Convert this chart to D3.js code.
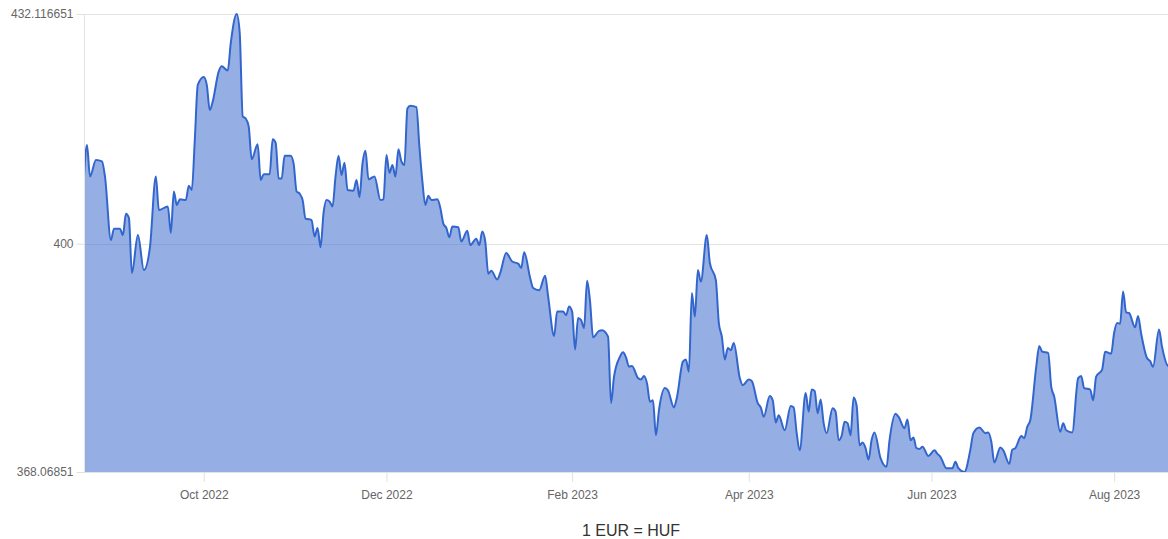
<!DOCTYPE html>
<html>
<head>
<meta charset="utf-8">
<script src="https://cdn.jsdelivr.net/npm/d3@7"></script>
<style>
  html, body { margin: 0; padding: 0; background: #fff; }
  #chart { width: 1168px; height: 539px; overflow: hidden; }
  text { font-family: "Liberation Sans", Arial, sans-serif; }
</style>
</head>
<body>
<div id="chart"></div>
<script>
;(function() {
  "use strict";

  // Data: daily EUR/HUF reference readings
  // ---------------------------------------------------------------------------
  var days = [
    "2022-08-22","2022-08-23","2022-08-24","2022-08-26","2022-08-28","2022-08-29","2022-08-31",
    "2022-09-01","2022-09-03","2022-09-04","2022-09-05","2022-09-06","2022-09-07","2022-09-09","2022-09-11","2022-09-13","2022-09-15","2022-09-16","2022-09-19","2022-09-20","2022-09-21","2022-09-22","2022-09-23","2022-09-25","2022-09-26","2022-09-27","2022-09-28","2022-09-29",
    "2022-10-01","2022-10-02","2022-10-03","2022-10-04","2022-10-06","2022-10-07","2022-10-09","2022-10-10","2022-10-12","2022-10-13","2022-10-14","2022-10-15","2022-10-16","2022-10-17","2022-10-19","2022-10-20","2022-10-21","2022-10-23","2022-10-24","2022-10-25","2022-10-26","2022-10-27","2022-10-28","2022-10-30","2022-10-31",
    "2022-11-01","2022-11-02","2022-11-03","2022-11-04","2022-11-06","2022-11-07","2022-11-08","2022-11-09","2022-11-10","2022-11-11","2022-11-12","2022-11-13","2022-11-14","2022-11-15","2022-11-16","2022-11-17","2022-11-18","2022-11-20","2022-11-21","2022-11-22","2022-11-23","2022-11-24","2022-11-25","2022-11-27","2022-11-29","2022-11-30",
    "2022-12-01","2022-12-02","2022-12-03","2022-12-04","2022-12-05","2022-12-06","2022-12-07","2022-12-08","2022-12-09","2022-12-11","2022-12-12","2022-12-13","2022-12-14","2022-12-15","2022-12-16","2022-12-18","2022-12-19","2022-12-20","2022-12-21","2022-12-22","2022-12-23","2022-12-25","2022-12-26","2022-12-28","2022-12-29","2022-12-31",
    "2023-01-01","2023-01-02","2023-01-03","2023-01-04","2023-01-05","2023-01-07","2023-01-08","2023-01-10","2023-01-12","2023-01-14","2023-01-15","2023-01-16","2023-01-18","2023-01-19","2023-01-21","2023-01-23","2023-01-24","2023-01-26","2023-01-27","2023-01-29","2023-01-30","2023-01-31",
    "2023-02-01","2023-02-02","2023-02-03","2023-02-04","2023-02-05","2023-02-06","2023-02-07","2023-02-08","2023-02-10","2023-02-11","2023-02-13","2023-02-14","2023-02-15","2023-02-17","2023-02-18","2023-02-19","2023-02-20","2023-02-21","2023-02-23","2023-02-24","2023-02-25","2023-02-26","2023-02-27","2023-02-28",
    "2023-03-01","2023-03-02","2023-03-04","2023-03-05","2023-03-07","2023-03-08","2023-03-10","2023-03-11","2023-03-12","2023-03-13","2023-03-14","2023-03-15","2023-03-16","2023-03-18","2023-03-19","2023-03-21","2023-03-22","2023-03-23","2023-03-24","2023-03-25","2023-03-26","2023-03-27","2023-03-29","2023-03-30",
    "2023-04-01","2023-04-02","2023-04-04","2023-04-05","2023-04-06","2023-04-08","2023-04-09","2023-04-10","2023-04-11","2023-04-13","2023-04-15","2023-04-16","2023-04-17","2023-04-18","2023-04-20","2023-04-21","2023-04-22","2023-04-23","2023-04-24","2023-04-25","2023-04-26","2023-04-27","2023-04-29","2023-04-30",
    "2023-05-01","2023-05-02","2023-05-03","2023-05-04","2023-05-05","2023-05-06","2023-05-07","2023-05-08","2023-05-09","2023-05-10","2023-05-11","2023-05-12","2023-05-13","2023-05-15","2023-05-17","2023-05-18","2023-05-20","2023-05-21","2023-05-23","2023-05-24","2023-05-25","2023-05-26","2023-05-27","2023-05-28","2023-05-29","2023-05-31",
    "2023-06-02","2023-06-03","2023-06-04","2023-06-06","2023-06-08","2023-06-09","2023-06-10","2023-06-12","2023-06-14","2023-06-15","2023-06-17","2023-06-19","2023-06-20","2023-06-21","2023-06-22","2023-06-24","2023-06-25","2023-06-27","2023-06-28","2023-06-29",
    "2023-07-01","2023-07-02","2023-07-03","2023-07-04","2023-07-06","2023-07-07","2023-07-08","2023-07-10","2023-07-11","2023-07-12","2023-07-14","2023-07-15","2023-07-16","2023-07-18","2023-07-20","2023-07-21","2023-07-22","2023-07-24","2023-07-25","2023-07-26","2023-07-28","2023-07-29","2023-07-31",
    "2023-08-01","2023-08-02","2023-08-03","2023-08-04","2023-08-05","2023-08-06","2023-08-08","2023-08-09","2023-08-10","2023-08-12","2023-08-13","2023-08-14","2023-08-16","2023-08-17","2023-08-19","2023-08-20"
  ];

  var rates = [
    409.4,413.8,409.4,411.7,411.5,409.4,400.5,
    402.1,402.1,401.2,404.2,403.6,395.9,401.2,396.3,399.4,409.4,404.7,405.2,401.5,407.3,405.4,406.2,406.1,408.1,407.5,414.5,422.2,
    423.3,422.2,418.7,419.9,424.1,424.8,424.2,428.0,432.116651,429.5,417.8,417.5,416.4,411.8,413.9,408.9,409.7,409.7,414.6,414.1,409.1,409.1,412.3,412.3,411.2,
    407.3,407.0,406.1,403.5,403.3,401.0,402.2,399.5,404.3,406.1,405.9,405.2,409.4,412.3,409.6,411.3,407.5,407.4,408.9,406.5,411.2,413.0,409.0,409.4,406.1,406.2,
    412.4,409.9,411.0,409.4,413.2,411.5,411.0,418.9,419.3,419.1,413.6,408.7,405.4,406.7,406.1,406.2,405.0,402.8,402.2,400.9,402.4,402.3,400.3,401.8,399.8,400.7,
    399.8,401.7,400.3,395.8,396.2,395.0,395.9,398.7,397.5,397.2,396.6,398.8,395.2,393.8,393.5,395.5,392.6,387.1,390.5,390.5,390.0,391.2,
    390.5,385.2,389.6,389.3,388.2,394.8,391.9,386.9,387.8,387.9,387.0,377.7,381.4,384.2,384.8,384.1,382.8,382.9,381.2,381.0,381.5,380.5,377.9,378.1,
    373.2,376.7,379.8,379.5,377.1,378.5,383.5,383.8,382.1,393.1,389.8,396.3,394.7,401.2,397.3,394.9,388.9,387.0,383.8,385.4,385.1,386.1,381.2,380.2,
    381.0,380.8,377.7,377.1,375.8,378.7,378.1,375.0,376.0,373.9,377.3,377.1,373.5,371.1,379.1,376.5,379.6,379.4,376.3,378.2,374.9,373.5,377.0,376.5,
    372.5,373.1,375.1,374.9,373.2,378.5,377.4,371.8,372.2,371.4,369.8,372.5,373.6,370.0,368.8,372.5,376.2,375.8,374.2,375.4,372.5,372.9,371.4,371.3,371.6,370.3,
    371.1,370.6,370.2,368.6,368.6,369.5,368.6,368.06851,371.2,373.5,374.3,373.5,373.6,372.3,369.4,371.5,371.1,369.2,371.2,371.4,
    373.1,372.8,374.4,375.3,382.8,385.7,384.9,384.7,380.0,378.6,373.7,374.9,373.9,373.6,381.2,381.5,379.8,379.6,378.1,381.4,382.4,384.9,384.6,
    387.5,388.9,388.8,393.3,390.4,390.3,388.3,389.9,387.5,384.0,383.6,382.8,388.0,385.6,382.9,382.8
  ];

  var monthTicks = ["2022-10-01","2022-12-01","2023-02-01","2023-04-01","2023-06-01","2023-08-01"];
  var title = "1 EUR = HUF";

  // Dimensions
  // ---------------------------------------------------------------------------
  var W = 1168, H = 539;
  var margin = { top: 14, left: 84, bottom: 67 };
  var plotBottom = H - margin.bottom;
  var plotRight = 1171; // series runs a little past the visible edge

  var parse = d3.timeParse("%Y-%m-%d");
  var data = days.map(function(d, i) { return { date: parse(d), rate: rates[i] }; });

  var yExtent = d3.extent(rates);
  var yTicks = [yExtent[0], 400, yExtent[1]];

  var x = d3.scaleTime()
    .domain(d3.extent(data, function(d) { return d.date; }))
    .range([margin.left, plotRight]);

  var y = d3.scaleLinear()
    .domain(yExtent)
    .range([plotBottom, margin.top]);

  var svg = d3.select("#chart").append("svg")
    .attr("width", W)
    .attr("height", H);

  svg.append("clipPath")
    .attr("id", "plot-clip")
    .append("rect")
      .attr("x", margin.left)
      .attr("y", 0)
      .attr("width", W - margin.left)
      .attr("height", plotBottom);

  // Gridlines
  // ---------------------------------------------------------------------------
  svg.append("g")
    .selectAll("line")
    .data(yTicks)
    .enter().append("line")
      .attr("x1", margin.left)
      .attr("x2", W)
      .attr("y1", function(d) { return Math.round(y(d)) + 0.5; })
      .attr("y2", function(d) { return Math.round(y(d)) + 0.5; })
      .attr("stroke", "#e3e3e3")
      .attr("stroke-width", 1);

  // Area + line
  // ---------------------------------------------------------------------------
  var area = d3.area()
    .curve(d3.curveMonotoneX)
    .x(function(d) { return x(d.date); })
    .y0(plotBottom)
    .y1(function(d) { return y(d.rate); });

  var line = d3.line()
    .curve(d3.curveMonotoneX)
    .x(function(d) { return x(d.date); })
    .y(function(d) { return y(d.rate); });

  var plot = svg.append("g")
    .attr("clip-path", "url(#plot-clip)");

  plot.append("path")
    .datum(data)
    .attr("d", area)
    .attr("fill", "#3366cc")
    .attr("fill-opacity", 0.52);

  plot.append("path")
    .datum(data)
    .attr("d", line)
    .attr("fill", "none")
    .attr("stroke", "#3366cc")
    .attr("stroke-width", 2)
    .attr("stroke-linejoin", "round");

  // Axes
  // ---------------------------------------------------------------------------
  var yAxis = d3.axisLeft(y)
    .tickValues(yTicks)
    .tickSize(8)
    .tickPadding(3)
    .tickFormat(function(d) { return String(d); });

  var gy = svg.append("g")
    .attr("transform", "translate(" + (margin.left + 0.5) + ",0)")
    .call(yAxis);

  var xAxis = d3.axisBottom(x)
    .tickValues(monthTicks.map(parse))
    .tickSize(10)
    .tickPadding(8)
    .tickFormat(d3.timeFormat("%b %Y"));

  var gx = svg.append("g")
    .attr("transform", "translate(0," + plotBottom + ")")
    .call(xAxis);

  [gy, gx].forEach(function(g) {
    g.select(".domain").remove();
    g.selectAll(".tick line").attr("stroke", "#e0e0e0");
    g.selectAll(".tick text")
      .attr("fill", "#666")
      .attr("font-size", 12)
      .attr("font-family", "Liberation Sans, Arial, sans-serif");
  });

  // left axis rule
  svg.append("line")
    .attr("x1", margin.left + 0.5)
    .attr("x2", margin.left + 0.5)
    .attr("y1", margin.top)
    .attr("y2", plotBottom)
    .attr("stroke", "#e3e3e3");

  // Title
  // ---------------------------------------------------------------------------
  svg.append("text")
    .attr("x", 631)
    .attr("y", 536)
    .attr("text-anchor", "middle")
    .attr("fill", "#333")
    .attr("font-size", 16)
    .text(title);
})();
</script>
</body>
</html>
